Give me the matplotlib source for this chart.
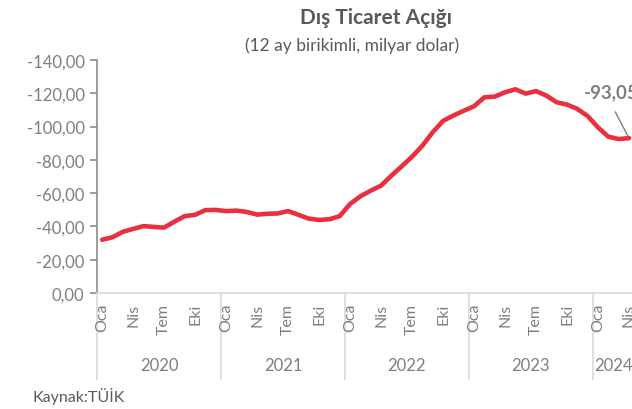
import matplotlib as mpl
mpl.use('Agg')
import matplotlib.pyplot as plt
import matplotlib.transforms as mtransforms

plt.rcParams['font.family'] = ['Lato', 'DejaVu Sans']

# 12-month cumulative foreign trade balance (billion USD), Jan 2020 - Apr 2024
years = ['2020', '2021', '2022', '2023', '2024']
months_per_year = [12, 12, 12, 12, 4]
month_labels = ['Oca', 'Nis', 'Tem', 'Eki']
balance = [
    -32.0, -33.5, -36.8, -38.5, -40.2, -39.7, -39.3, -42.9, -46.2, -47.0, -49.8, -49.9,
    -49.2, -49.5, -48.7, -47.1, -47.6, -47.8, -49.2, -47.0, -44.7, -43.9, -44.3, -46.2,
    -53.5, -58.1, -61.5, -64.5, -70.5, -76.1, -81.9, -88.5, -96.6, -103.4, -106.6, -109.5,
    -112.2, -117.6, -118.0, -120.6, -122.4, -119.8, -121.3, -118.6, -114.6, -113.2, -110.6, -106.3,
    -99.5, -93.9, -92.5, -93.05,
]
yticks = [0, -20, -40, -60, -80, -100, -120, -140]

RED = '#E8303F'
GREY_TXT = '#7f7f7f'
DARK_TXT = '#595959'
LIGHT = '#d9d9d9'

W, H = 632, 410
fig = plt.figure(figsize=(W / 100, H / 100), dpi=100)

n = len(balance)
month_px = 10.33
left_px, top_px, bottom_px = 97, 61, 294
ax = fig.add_axes([left_px / W, (H - bottom_px) / H,
                   n * month_px / W, (bottom_px - top_px) / H])

x = list(range(n))
ax.plot(x, balance, color=RED, lw=3.3, solid_capstyle='round', solid_joinstyle='round')

ax.set_xlim(-0.5, n - 0.5)
ax.set_ylim(0, -140)
ax.set_yticks(yticks)
ax.set_yticklabels([f'{v:.2f}'.replace('.', ',') for v in yticks])
ax.tick_params(axis='y', colors='#8c8c8c', labelcolor=GREY_TXT, labelsize=12,
               length=5, width=1.2, pad=4)
ax.set_xticks([])

for s in ['top', 'right']:
    ax.spines[s].set_visible(False)
ax.spines['left'].set_color('#8c8c8c')
ax.spines['left'].set_linewidth(1.2)
ax.spines['bottom'].set_color(LIGHT)
ax.spines['bottom'].set_linewidth(1.2)

# category axis: month labels, year groups and separators
trans = mtransforms.blended_transform_factory(ax.transData, ax.transAxes)
axis_h = bottom_px - top_px
start = 0
for yr, cnt in zip(years, months_per_year):
    ax.plot([start - 0.5, start - 0.5], [0, -(380 - bottom_px) / axis_h],
            transform=trans, color=LIGHT, lw=1.2, clip_on=False)
    for k, lab in enumerate(month_labels):
        m = start + 3 * k
        if m < start + cnt:
            ax.text(m, -10 / axis_h, lab, transform=trans, rotation=90,
                    ha='center', va='top', fontsize=11.5, color=GREY_TXT)
    ax.text(start + (cnt - 1) / 2, -(366 - bottom_px) / axis_h, yr, transform=trans,
            ha='center', va='center', fontsize=12, color=GREY_TXT)
    start += cnt

# last value label
last = balance[-1]
ax.annotate(f'{last:.2f}'.replace('.', ','), xy=(n - 1, last), xytext=(46.6, -120.8),
            ha='left', va='center', fontsize=13.5, fontweight='bold', color=GREY_TXT,
            arrowprops=dict(arrowstyle='-', color=GREY_TXT, lw=1.0,
                            relpos=(0.47, 0), shrinkA=7, shrinkB=2),
            annotation_clip=False)

fig.text(376 / W, 1 - 18 / H, 'Dış Ticaret Açığı', ha='center', va='center',
         fontsize=15, fontweight='bold', color=DARK_TXT)
fig.text(352 / W, 1 - 46 / H, '(12 ay birikimli, milyar dolar)', ha='center', va='center',
         fontsize=12.5, color=DARK_TXT)
fig.text(33 / W, 1 - 397 / H, 'Kaynak:TÜİK', ha='left', va='center',
         fontsize=11.5, color=DARK_TXT)

fig.savefig('out.png', dpi=100)
plt.close(fig)
